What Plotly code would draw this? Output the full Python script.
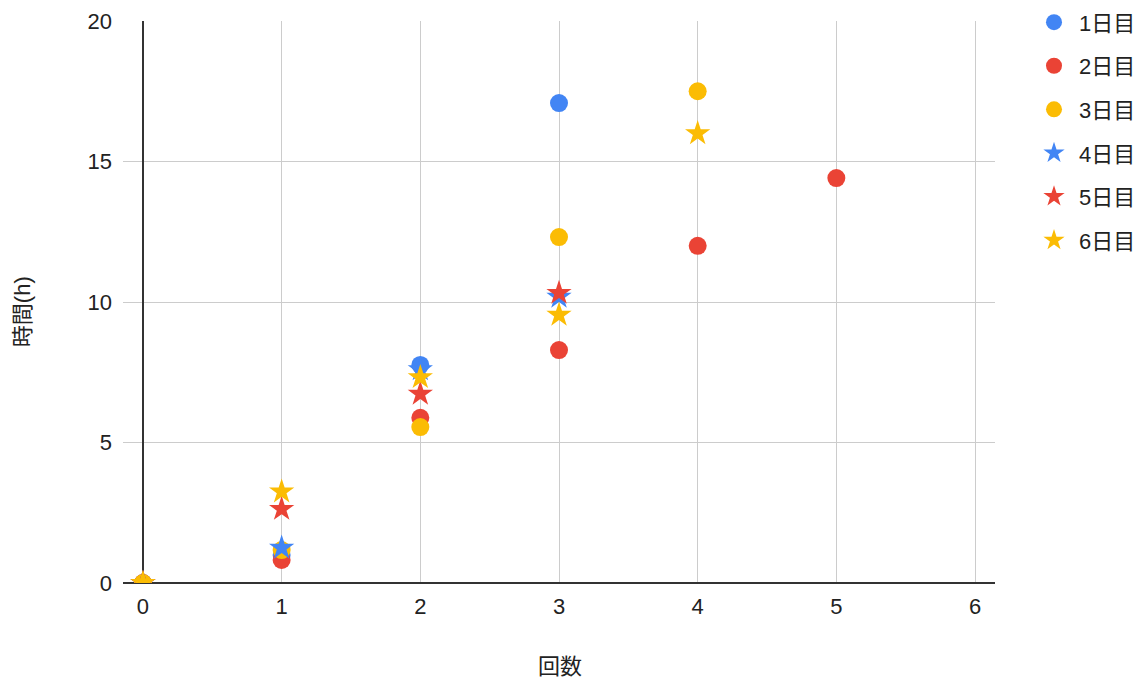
import plotly.graph_objects as go

series_names = ["1日目", "2日目", "3日目", "4日目", "5日目", "6日目"]
x_day1 = [0, 1, 2, 3]
y_day1 = [0, 1.0, 7.76, 17.08]
x_day2 = [0, 1, 2, 3, 4, 5]
y_day2 = [0, 0.82, 5.88, 8.29, 12.0, 14.41]
x_day3 = [0, 1, 2, 3, 4]
y_day3 = [0, 1.17, 5.55, 12.31, 17.5]
x_day4 = [0, 1, 2, 3]
y_day4 = [0, 1.25, 7.6, 10.18]
x_day5 = [0, 1, 2, 3]
y_day5 = [0, 2.63, 6.73, 10.32]
x_day6 = [0, 1, 2, 3, 4]
y_day6 = [0, 3.25, 7.32, 9.54, 16.0]

xs = [x_day1, x_day2, x_day3, x_day4, x_day5, x_day6]
ys = [y_day1, y_day2, y_day3, y_day4, y_day5, y_day6]
colors = ["#4285F4", "#EA4335", "#FBBC04", "#4285F4", "#EA4335", "#FBBC04"]
symbols = ["circle", "circle", "circle", "star", "star", "star"]
sizes = [18, 18, 18, 19, 19, 19]

FONT = "Liberation Sans, Arial, Noto Sans CJK JP, sans-serif"
FS = 22

fig = go.Figure()
for i, name in enumerate(series_names):
    fig.add_trace(go.Scatter(
        x=xs[i], y=ys[i], mode="markers", name=name,
        legendgroup=name,
        marker=dict(color=colors[i], symbol=symbols[i], size=sizes[i],
                    line=dict(width=0)),
    ))

fig.update_layout(
    width=1147, height=683,
    margin=dict(l=123, r=152, t=21, b=100, autoexpand=False),
    paper_bgcolor="white", plot_bgcolor="white",
    font=dict(family=FONT, size=FS, color="#222"),
    showlegend=True,
    legend=dict(x=1.039, y=1.035, xanchor="left", yanchor="top",
                tracegroupgap=12, font=dict(size=FS, color="#222"),
                itemsizing="trace", itemwidth=40),
    xaxis=dict(range=[-0.144, 6.144], tickvals=[0, 1, 2, 3, 4, 5, 6],
               showgrid=True, gridcolor="#cccccc", gridwidth=1.2,
               zeroline=True, zerolinecolor="#333333", zerolinewidth=1.5,
               showline=False, ticks="", ticklabelstandoff=8,
               tickfont=dict(size=FS, color="#222")),
    yaxis=dict(range=[0, 20], tickvals=[0, 5, 10, 15, 20],
               showgrid=True, gridcolor="#cccccc", gridwidth=1.2,
               zeroline=True, zerolinecolor="#333333", zerolinewidth=1.5,
               showline=False, ticks="", ticklabelstandoff=10,
               tickfont=dict(size=FS, color="#222")),
    annotations=[
        dict(text="回数", xref="paper", yref="paper", x=0.501, y=-0.149,
             xanchor="center", yanchor="middle", showarrow=False,
             font=dict(size=FS, color="#222")),
        dict(text="時間(h)", xref="paper", yref="paper", x=-0.1158, y=0.482,
             xanchor="center", yanchor="middle", showarrow=False, textangle=-90,
             font=dict(size=FS, color="#222")),
    ],
)

fig.write_html("out.html")
